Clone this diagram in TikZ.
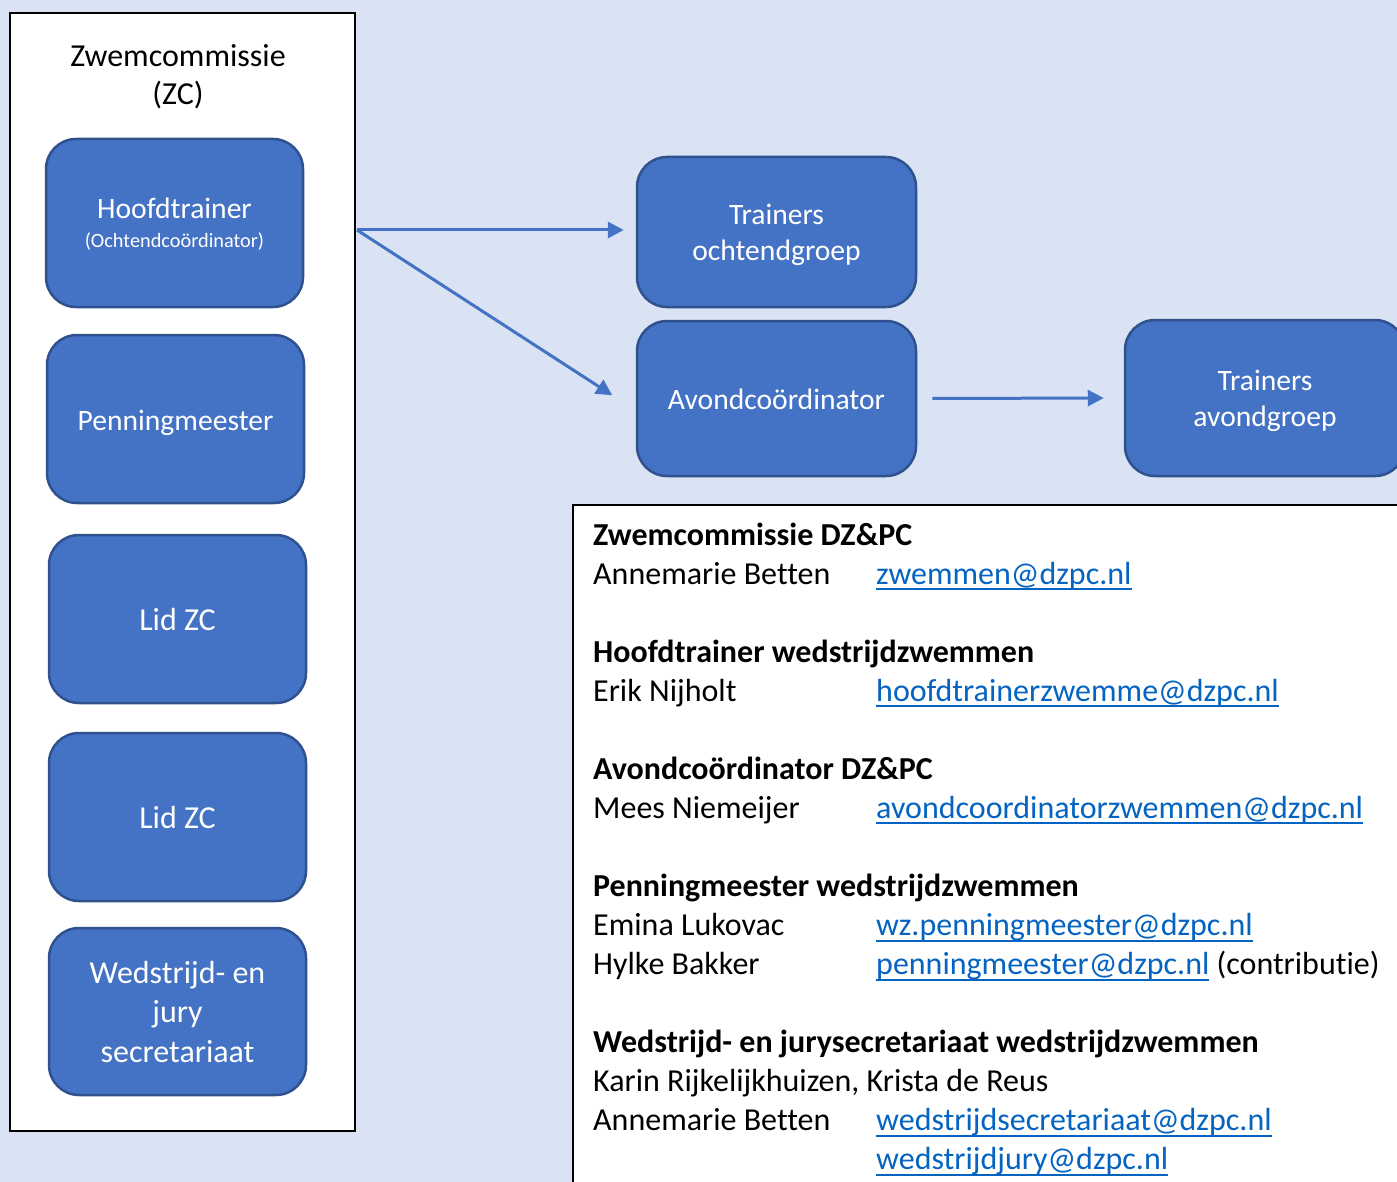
\documentclass[tikz,border=0pt]{standalone}
\usepackage{fontspec}
\setmainfont{Carlito}[Ligatures=NoCommon]
\usetikzlibrary{arrows.meta}
\definecolor{paneblue}{HTML}{DAE3F3}
\definecolor{unitfill}{HTML}{4472C4}
\definecolor{unitedge}{HTML}{2F528F}
\definecolor{linkblue}{HTML}{0563C1}
\newcommand{\mail}[1]{\textcolor{linkblue}{\setbox0\hbox{#1}\rlap{\rule[-6pt]{\wd0}{2pt}}\box0}}

\begin{document}
\begin{tikzpicture}[x=1pt,y=-1pt,
  unit/.style={draw=unitedge, fill=unitfill, line width=2.5pt, rounded corners=30pt,
    text=white, align=center, inner sep=0pt, font=\fontsize{29.6}{36}\selectfont},
  oneline/.style={text height=25pt, text depth=3pt},
  link/.style={draw=unitfill, line width=3pt, -{Triangle[length=16pt,width=16pt]}}]
\tikzstyle{every node}+=[inner sep=0pt]
\clip (0,0) rectangle (1397,1182);
\fill [paneblue] (0,0) rectangle (1397,1182);
% commissie
\node [draw=black, line width=2.5pt, fill=white, minimum width=345pt, minimum height=1118pt] (zc) at (182.5,572) {};
\node [align=center, font=\fontsize{32}{38}\selectfont] (zctitle) at (178,77) {Zwemcommissie\\(ZC)};
\node [unit, text depth=-9pt, minimum width=257pt, minimum height=168pt] (hoofd) at (174.5,223) {Hoofdtrainer\\[-7pt]{\fontsize{20.3}{24}\selectfont(Ochtendcoördinator)}};
\node [unit, oneline, minimum width=257pt, minimum height=168pt] (penning) at (175.5,419) {Penningmeester};
\node [unit, oneline, minimum width=257pt, minimum height=168pt, font=\fontsize{32}{39.5}\selectfont] (lidA) at (177.5,619) {Lid ZC};
\node [unit, oneline, minimum width=257pt, minimum height=168pt, font=\fontsize{32}{39.5}\selectfont] (lidB) at (177.5,817) {Lid ZC};
\node [unit, text depth=-6pt, minimum width=257pt, minimum height=167pt, font=\fontsize{32}{39.5}\selectfont] (secr) at (177.5,1011.5) {Wedstrijd- en\\jury\\secretariaat};
% trainers
\node [unit, text depth=0pt, minimum width=279pt, minimum height=150pt] (ocht) at (776.5,232) {Trainers\\ochtendgroep};
\node [unit, oneline, minimum width=279pt, minimum height=155pt] (avond) at (776.5,398.5) {Avondcoördinator};
\node [unit, text depth=0pt, minimum width=280pt, minimum height=156pt] (tavond) at (1265,398) {Trainers\\avondgroep};
\coordinate (split) at (357,230);
\draw [link, shorten >=12pt] (split) -- (split -| ocht.west);
\draw [link, shorten >=28pt] (split) -- ([yshift=-12pt]avond.west);
\draw [link, shorten <=15pt, shorten >=20pt] (avond.east) -- (tavond.west);
% contactgegevens
\node [draw=black, line width=1.5pt, fill=white, minimum width=860pt, minimum height=720pt, anchor=north west] (contactbox) at (572,504) {};
\node [anchor=base west, font=\fontsize{32}{39.06}\selectfont] (contacts) at (593,545) {%
\begin{tabular}[t]{@{}p{283pt}@{}l@{}}
\multicolumn{2}{@{}l@{}}{\textbf{Zwemcommissie DZ\&PC}}\\
Annemarie Betten & \mail{zwemmen@dzpc.nl}\\
\\
\multicolumn{2}{@{}l@{}}{\textbf{Hoofdtrainer wedstrijdzwemmen}}\\
Erik Nijholt & \mail{hoofdtrainerzwemme@dzpc.nl}\\
\\
\multicolumn{2}{@{}l@{}}{\textbf{Avondcoördinator DZ\&PC}}\\
Mees Niemeijer & \mail{avondcoordinatorzwemmen@dzpc.nl}\\
\\
\multicolumn{2}{@{}l@{}}{\textbf{Penningmeester wedstrijdzwemmen}}\\
Emina Lukovac & \mail{wz.penningmeester@dzpc.nl}\\
Hylke Bakker & \mail{penningmeester@dzpc.nl} (contributie)\\
\\
\multicolumn{2}{@{}l@{}}{\textbf{Wedstrijd- en jurysecretariaat wedstrijdzwemmen}}\\
\multicolumn{2}{@{}l@{}}{Karin Rijkelijkhuizen, Krista de Reus}\\
Annemarie Betten & \mail{wedstrijdsecretariaat@dzpc.nl}\\
 & \mail{wedstrijdjury@dzpc.nl}
\end{tabular}};
\end{tikzpicture}
\end{document}
